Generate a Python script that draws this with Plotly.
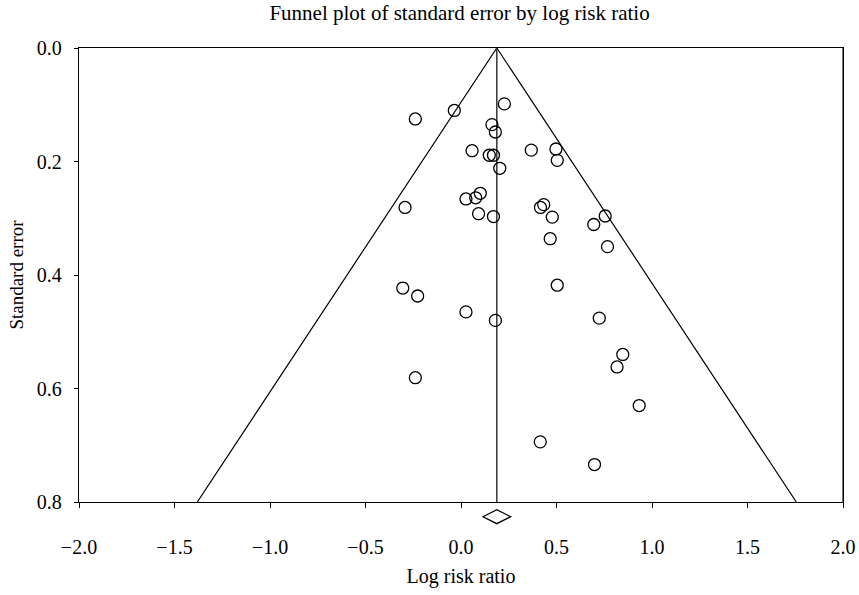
import plotly.graph_objects as go

# Study data: log risk ratio and standard error
log_rr = [-0.239, -0.035, 0.227, 0.162, 0.180, 0.058, 0.148, 0.170, 0.203,
          0.368, 0.497, 0.504, -0.293, 0.101, 0.077, 0.026, 0.092, 0.170,
          0.433, 0.416, 0.478, 0.695, 0.755, 0.467, 0.767,
          -0.305, -0.227, 0.026, 0.180, -0.239, 0.504, 0.724, 0.847, 0.817,
          0.933, 0.415, 0.699]
std_err = [0.125, 0.110, 0.0985, 0.135, 0.148, 0.181, 0.189, 0.189, 0.212,
           0.180, 0.178, 0.198, 0.281, 0.256, 0.264, 0.266, 0.292, 0.297,
           0.276, 0.281, 0.298, 0.311, 0.296, 0.336, 0.350,
           0.423, 0.437, 0.465, 0.480, 0.581, 0.418, 0.476, 0.540, 0.562,
           0.630, 0.694, 0.734]

pooled = 0.1875
pooled_ci = [0.115, 0.260]
se_max = 0.8
z = 1.96
x_ticks = [-2.0, -1.5, -1.0, -0.5, 0.0, 0.5, 1.0, 1.5, 2.0]
y_ticks = [0.0, 0.2, 0.4, 0.6, 0.8]

font_family = "Liberation Serif, Times New Roman, serif"

fig = go.Figure()

# funnel
fig.add_trace(go.Scatter(
    x=[pooled - z * se_max, pooled, pooled + z * se_max],
    y=[se_max, 0, se_max],
    mode="lines", line=dict(color="black", width=1.2),
    hoverinfo="skip", showlegend=False))
# center line
fig.add_trace(go.Scatter(
    x=[pooled, pooled], y=[0, se_max],
    mode="lines", line=dict(color="#333333", width=1.5),
    hoverinfo="skip", showlegend=False))
# studies
fig.add_trace(go.Scatter(
    x=log_rr, y=std_err, mode="markers",
    marker=dict(symbol="circle-open", size=12, color="black",
                line=dict(width=1.3, color="black")),
    showlegend=False))

# pooled diamond below the axis (x in data units, y in paper units)
yc, hh = -0.0324, 0.0154
fig.add_shape(
    type="path", xref="x", yref="paper", layer="above",
    path=(f"M {pooled_ci[0]},{yc} L {pooled},{yc + hh} "
          f"L {pooled_ci[1]},{yc} L {pooled},{yc - hh} Z"),
    line=dict(color="black", width=1.3), fillcolor="white")

# right border (gray)
fig.add_shape(type="line", xref="x", yref="paper", x0=2.0, x1=2.0, y0=0, y1=1,
              line=dict(color="#555555", width=1.6), layer="above")

fig.update_layout(
    width=859, height=595,
    margin=dict(l=79, r=16, t=48, b=93),
    plot_bgcolor="white", paper_bgcolor="white",
    font=dict(family=font_family, color="black", size=20),
    title=dict(text="Funnel plot of standard error by log risk ratio",
               x=0.535, xanchor="center", y=1 - 13 / 595, yanchor="middle",
               yref="container", font=dict(size=21, family=font_family)),
    xaxis=dict(range=[-2.0, 2.0], tickvals=x_ticks,
               ticktext=[f"{v:.1f}".replace("-", "\u2212") for v in x_ticks],
               showgrid=False, zeroline=False, showline=True, linecolor="black",
               linewidth=1.3, mirror=True, ticks="outside", ticklen=5,
               tickcolor="black", ticklabelstandoff=22, automargin=False,
               title=dict(text="Log risk ratio", standoff=11,
                          font=dict(size=20))),
    yaxis=dict(range=[se_max, 0.0], tickvals=y_ticks,
               ticktext=[f"{v:.1f}" for v in y_ticks],
               showgrid=False, zeroline=False, showline=True, linecolor="black",
               linewidth=1.3, mirror=True, ticks="outside", ticklen=4,
               tickcolor="black", ticklabelstandoff=8, automargin=False,
               title=dict(text="Standard error", standoff=8,
                          font=dict(size=19))),
)

fig.write_html("out.html")
